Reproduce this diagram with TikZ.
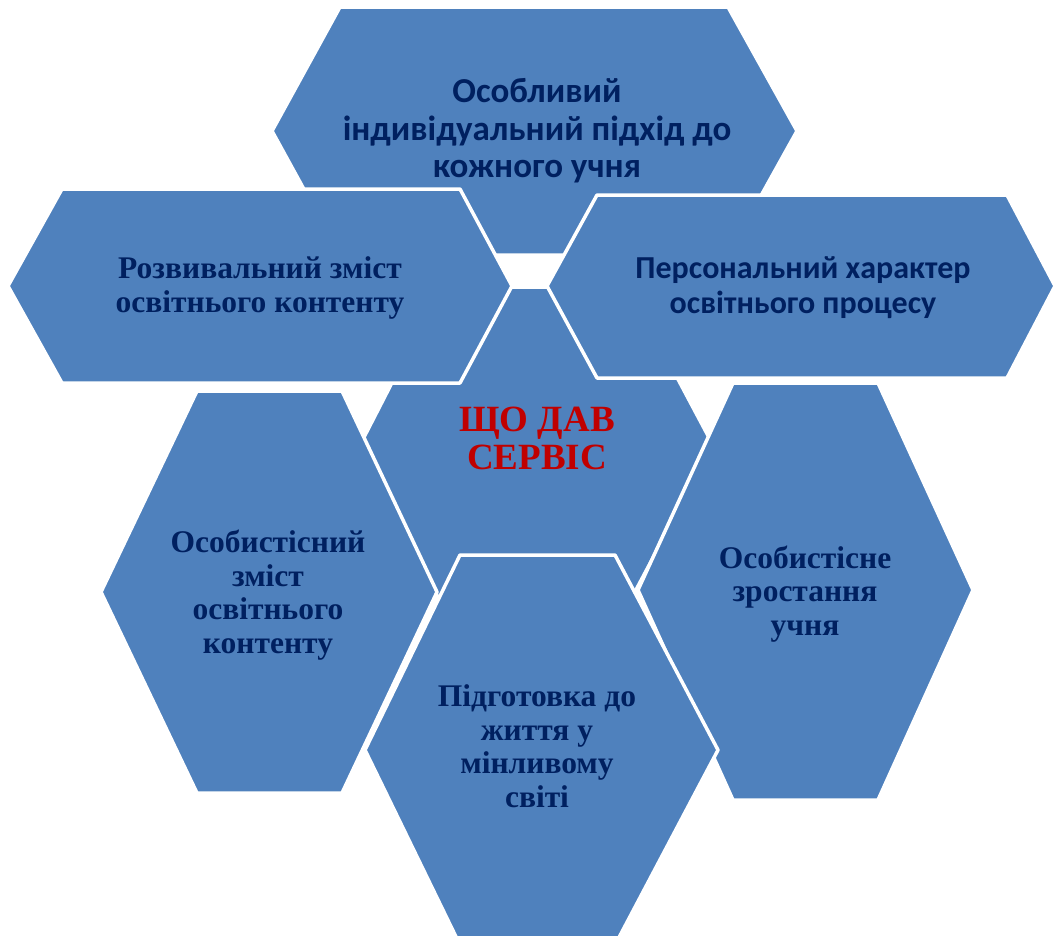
\documentclass[tikz,border=0pt]{standalone}
\usepackage{fontspec}
\setmainfont{Liberation Serif}
\newfontfamily\calfont{Carlito}
\definecolor{hexblue}{HTML}{4F81BD}
\definecolor{textnavy}{HTML}{002060}
\definecolor{servred}{HTML}{C00000}
\begin{document}
\begin{tikzpicture}[x=1pt,y=-1pt,line join=round,
	hexcell/.style={fill=hexblue,draw=white,line width=3.5pt},
	serlabel/.style={align=center,text=textnavy,font=\fontsize{31.5}{33.5}\selectfont\bfseries},
	callabel/.style={align=center,text=textnavy,font=\calfont\fontsize{32}{35}\selectfont\bfseries}]
	\useasboundingbox (0,0) rectangle (1057,935);
	% верхній
	\draw[hexcell] (272,131)--(340,7)--(728,7)--(797,131)--(728,255)--(340,255)--cycle;
	\node[callabel,font=\calfont\fontsize{35}{37.5}\selectfont\bfseries] (osoblyvyi) at (537,131) {Особливий\\індивідуальний підхід до\\кожного учня};
	% центр
	\draw[hexcell] (360,445)--(441,287)--(629,287)--(713,445)--(629,603)--(441,603)--cycle;
	\node[align=center,text=servred,font=\fontsize{37}{38}\selectfont\bfseries] (servis) at (537,438) {ЩО ДАВ\\СЕРВІС};
	% ліворуч угорі
	\draw[hexcell] (8,286)--(62,189)--(460,189)--(512,286)--(460,383)--(62,383)--cycle;
	\node[serlabel] (rozvyvalnyi) at (260,288) {Розвивальний зміст\\освітнього контенту};
	% праворуч угорі
	\draw[hexcell] (547,286)--(597,195)--(1007,195)--(1055,286)--(1007,378)--(597,378)--cycle;
	\node[callabel] (personalnyi) at (803,288) {Персональний характер\\освітнього процесу};
	% ліворуч унизу
	\draw[hexcell] (101,592)--(197,391)--(342,391)--(437,592)--(342,793)--(197,793)--cycle;
	\node[serlabel] (osobystisnyi) at (268,595) {Особистісний\\зміст\\освітнього\\контенту};
	% праворуч унизу
	\draw[hexcell] (638,590)--(733,383)--(878,383)--(973,590)--(878,800)--(733,800)--cycle;
	\node[serlabel] (zrostannia) at (805,594) {Особистісне\\зростання\\учня};
	% знизу
	\draw[hexcell] (365,750)--(460,555)--(615,555)--(718,750)--(615,945)--(460,945)--cycle;
	\node[serlabel] (pidgotovka) at (537,746) {Підготовка до\\життя у\\мінливому\\світі};
\end{tikzpicture}
\end{document}
